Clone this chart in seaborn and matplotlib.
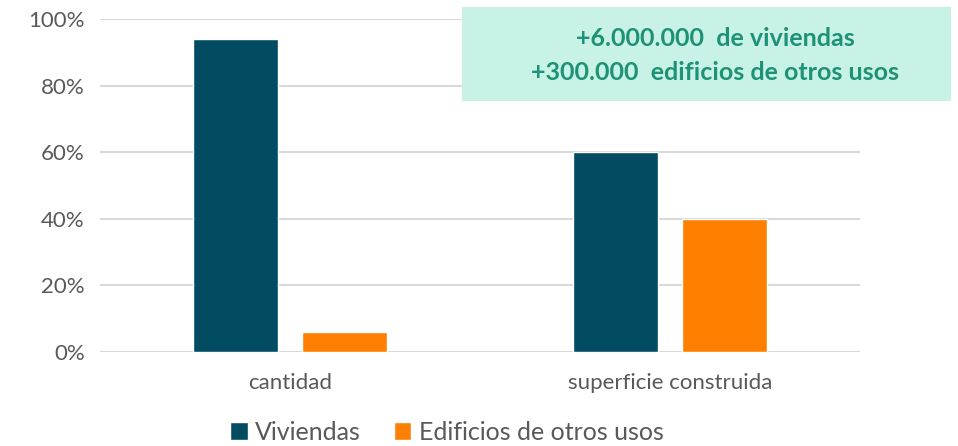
import seaborn as sns
import pandas as pd
import matplotlib.pyplot as plt
from matplotlib.patches import Rectangle
from matplotlib.ticker import PercentFormatter

categories = ["cantidad", "superficie construida"]
series = ["Viviendas", "Edificios de otros usos"]
viviendas = [0.94, 0.60]
otros_usos = [0.06, 0.40]
colors = ["#024c63", "#ff8000"]
note_lines = ["+6.000.000  de viviendas", "+300.000  edificios de otros usos"]

df = pd.DataFrame({
    "Categoria": categories * 2,
    "Serie": [series[0]] * 2 + [series[1]] * 2,
    "Valor": viviendas + otros_usos,
})

sns.set_theme(style="white")
plt.rcParams["font.family"] = ["Lato", "DejaVu Sans"]

fig = plt.figure(figsize=(9.58, 4.46), dpi=100)
ax = fig.add_axes([100 / 958, 94 / 446, 760 / 958, 333 / 446])

sns.barplot(data=df, x="Categoria", y="Valor", hue="Serie", palette=colors,
            width=0.574, gap=0.22, saturation=1, ax=ax, legend=True)

ax.set_ylim(0, 1)
ax.set_yticks([0, 0.2, 0.4, 0.6, 0.8, 1.0])
ax.yaxis.set_major_formatter(PercentFormatter(1.0, decimals=0))
ax.yaxis.grid(True, color="#d9d9d9", lw=1.5)
ax.set_axisbelow(True)
for s in ax.spines.values():
    s.set_visible(False)
ax.set_xlabel("")
ax.set_ylabel("")
ax.tick_params(axis="y", labelsize=16, colors="#595959", pad=11, length=0)
ax.tick_params(axis="x", labelsize=16, colors="#595959", pad=15, length=0)

leg = ax.legend(loc="center", bbox_to_anchor=(447 / 958, 1 - 432 / 446),
                bbox_transform=fig.transFigure, ncol=2, borderpad=0,
                frameon=False, fontsize=18, handlelength=0.7, handleheight=0.7,
                handletextpad=0.3, columnspacing=1.3)
for t in leg.get_texts():
    t.set_color("#595959")

# caja de nota
fig.patches.append(Rectangle((462 / 958, 1 - 101 / 446), 489 / 958, 94 / 446,
                             transform=fig.transFigure, facecolor="#c8f2e6",
                             edgecolor="none", zorder=5))
fig.text(715 / 958, 1 - 38 / 446, note_lines[0], ha="center", va="center",
         fontsize=18, fontweight="bold", color="#1e9276", zorder=6)
fig.text(715 / 958, 1 - 73 / 446, note_lines[1], ha="center", va="center",
         fontsize=18, fontweight="bold", color="#1e9276", zorder=6)

fig.savefig("out.png", dpi=100)
